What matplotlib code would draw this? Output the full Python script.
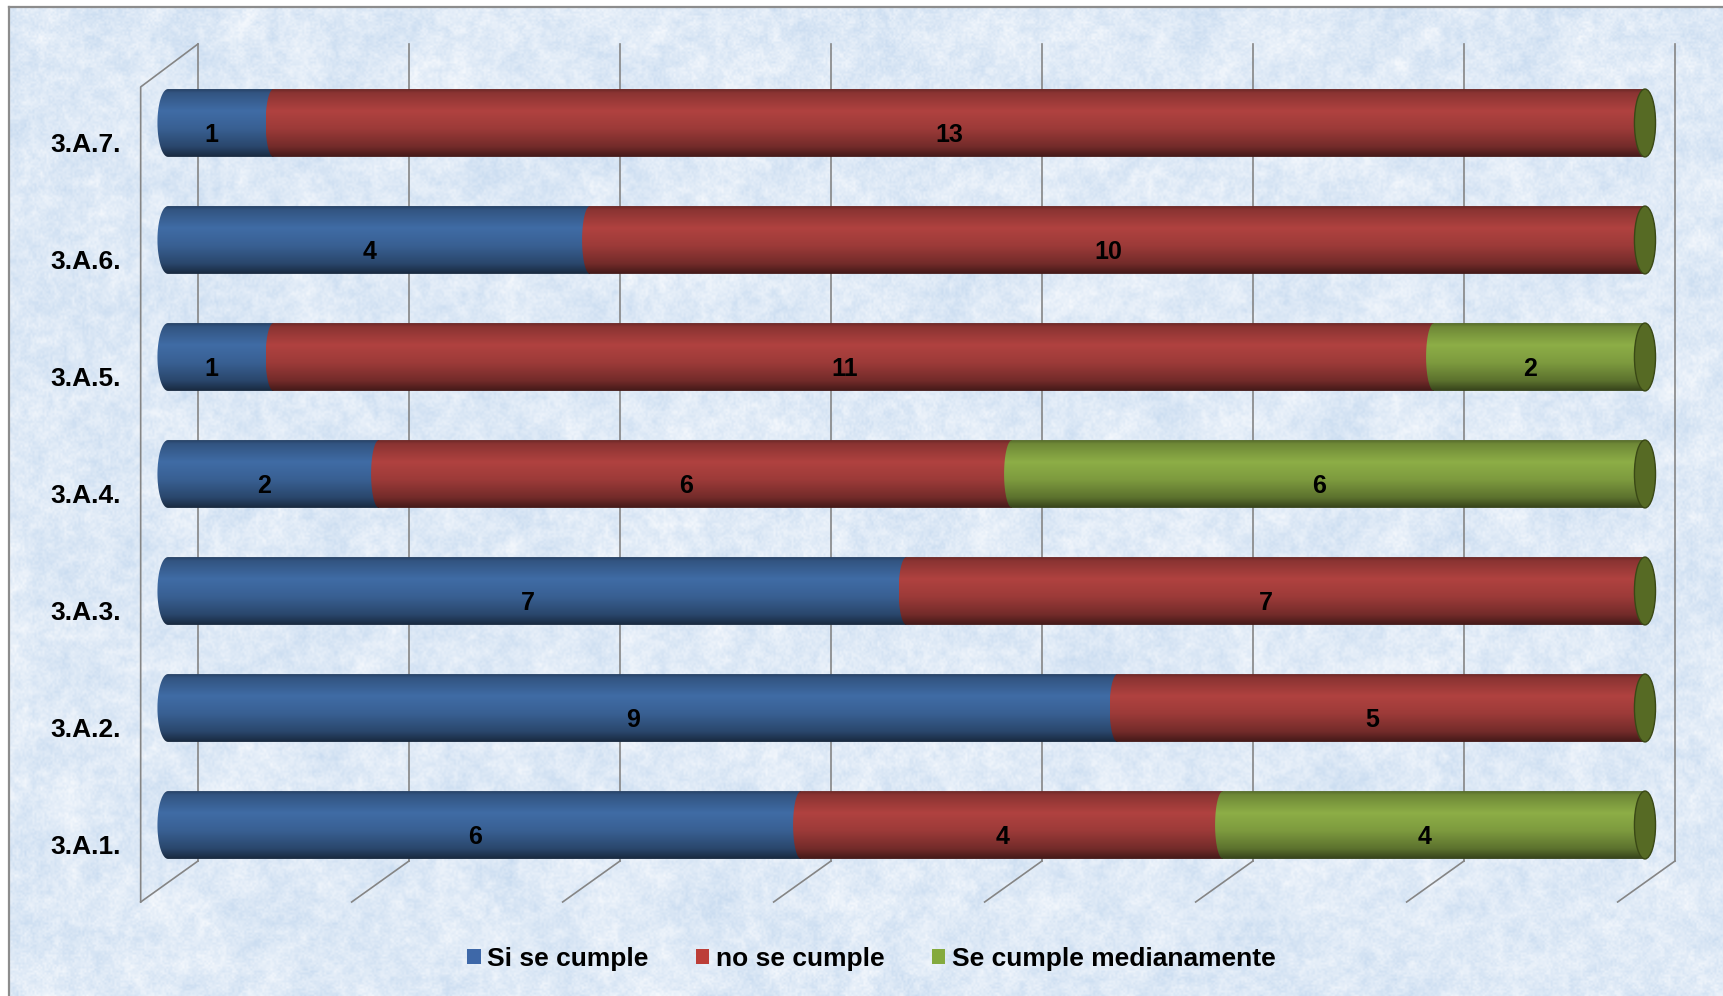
import numpy as np
import matplotlib
matplotlib.use("Agg")
import matplotlib.pyplot as plt
from matplotlib.patches import Ellipse, PathPatch, Patch
from matplotlib.path import Path

plt.rcParams["font.family"] = ["Liberation Sans", "DejaVu Sans"]

# ---- data -------------------------------------------------------------
categories = ["3.A.1.", "3.A.2.", "3.A.3.", "3.A.4.", "3.A.5.", "3.A.6.", "3.A.7."]
si_se_cumple = [6, 9, 7, 2, 1, 4, 1]
no_se_cumple = [4, 5, 7, 6, 11, 10, 13]
se_cumple_medianamente = [4, 0, 0, 6, 2, 0, 0]
series_names = ["Si se cumple", "no se cumple", "Se cumple medianamente"]
x_ticks = [0, 2, 4, 6, 8, 10, 12, 14]

# ---- styling ----------------------------------------------------------
body_rgb = [(58, 98, 150), (160, 60, 58), (128, 158, 64)]
legend_rgb = [(62, 104, 168), (188, 62, 56), (132, 170, 62)]
cap_rgb = (86, 106, 36)
grid_col = "#858585"

W, H, DPI = 1724, 996, 100
fig = plt.figure(figsize=(W / DPI, H / DPI), dpi=DPI)
fig.patch.set_facecolor("white")

# textured paper background inside the chart frame
bg = fig.add_axes([9 / W, 0, 1 - 9 / W, 1 - 7 / H])
rng = np.random.default_rng(11)


def smooth_noise(h, w, step):
    small = rng.random((h // step + 3, w // step + 3))
    yi = np.linspace(0, small.shape[0] - 2.001, h)
    xi = np.linspace(0, small.shape[1] - 2.001, w)
    y0 = yi.astype(int)
    x0 = xi.astype(int)
    fy = (yi - y0)[:, None]
    fx = (xi - x0)[None, :]
    a = small[y0][:, x0]
    b = small[y0][:, x0 + 1]
    c = small[y0 + 1][:, x0]
    d = small[y0 + 1][:, x0 + 1]
    return a * (1 - fx) * (1 - fy) + b * fx * (1 - fy) + c * (1 - fx) * fy + d * fx * fy


th, tw = H - 7, W - 9
n = (0.35 * smooth_noise(th, tw, 30) + 0.35 * smooth_noise(th, tw, 8)
     + 0.3 * smooth_noise(th, tw, 2))
n = (n - n.min()) / (n.max() - n.min())
dark = np.array([200, 219, 240]) / 255
light = np.array([246, 249, 253]) / 255
tex = dark[None, None, :] * (1 - n[..., None]) + light[None, None, :] * n[..., None]
bg.imshow(tex, aspect="auto", interpolation="bilinear")
bg.set_xticks([])
bg.set_yticks([])
for side in ["right", "bottom"]:
    bg.spines[side].set_visible(False)
for side in ["left", "top"]:
    bg.spines[side].set_color("#8c8c8c")
    bg.spines[side].set_linewidth(1.6)

# main plotting axes
ax = fig.add_axes([0, 0, 1, 1])
ax.patch.set_alpha(0)
ax.axis("off")

bar_half = 0.29      # half height of a cylinder (category units)
end_w = 0.1          # half width of the cylinder end ellipse (value units)
seam_w = 0.075       # bulge of the seam between two segments
label_dx, label_dy = -0.09, -0.1
dx_front, dx_back = -0.259, 0.284
y_floor_front, y_floor_back = -0.658, -0.308
y_top_front, y_top_back = 6.308, 6.675


def cylinder_shade(rgb, n=96):
    t = np.linspace(0, 1, n)
    k = np.interp(t, [0, 0.05, 0.32, 0.58, 0.85, 1.0], [0.68, 0.86, 1.1, 0.98, 0.72, 0.42])
    col = np.clip(np.array(rgb)[None, :] / 255 * k[:, None], 0, 1)
    return col[:, None, :]


def segment_path(a, b, yc, bulge):
    th_ = np.linspace(0, np.pi, 40)
    left = np.column_stack([a - bulge * np.sin(th_), yc + bar_half * np.cos(th_)])
    verts = [(b, yc + bar_half)] + [tuple(p) for p in left] + [(b, yc - bar_half), (b, yc + bar_half)]
    codes = [Path.MOVETO] + [Path.LINETO] * (len(verts) - 2) + [Path.CLOSEPOLY]
    return Path(verts, codes)


# back wall, side wall and floor grid
for v in x_ticks:
    ax.plot([v + dx_back, v + dx_back], [y_floor_back, y_top_back], color=grid_col, lw=1.2, zorder=1)
    ax.plot([v + dx_front, v + dx_back], [y_floor_front, y_floor_back], color=grid_col, lw=1.2, zorder=1)
ax.plot([dx_front, dx_front, dx_back], [y_floor_front, y_top_front, y_top_back],
        color=grid_col, lw=1.2, zorder=1)

# stacked cylinders
series = [si_se_cumple, no_se_cumple, se_cumple_medianamente]
for i, cat in enumerate(categories):
    left = 0
    first = True
    for s, vals in enumerate(series):
        v = vals[i]
        if v <= 0:
            continue
        a, b = left, left + v
        bulge = end_w if first else seam_w
        path = segment_path(a, b, i, bulge)
        clip = PathPatch(path, facecolor="none", edgecolor="none", transform=ax.transData)
        ax.add_patch(clip)
        im = ax.imshow(cylinder_shade(body_rgb[s]), extent=[a - bulge, b, i - bar_half, i + bar_half],
                       origin="upper", aspect="auto", interpolation="bilinear", zorder=3 + s * 0.1)
        im.set_clip_path(clip)
        ax.text((a + b) / 2 + label_dx, i + label_dy, str(v), ha="center", va="center",
                fontsize=18, fontweight="bold", color="black", zorder=6)
        left = b
        first = False
    ax.add_patch(Ellipse((left, i), 2 * end_w, 2 * bar_half, facecolor=np.array(cap_rgb) / 255,
                         edgecolor=np.array((58, 72, 22)) / 255, lw=1.0, zorder=4))
    ax.text(-0.45, i - 0.19, cat, ha="right", va="center", fontsize=19,
            fontweight="bold", color="black", zorder=6)

ax.set_xlim(-1.5924, 14.749)
ax.set_ylim(-1.4615, 7.051)

handles = [Patch(facecolor=np.array(c) / 255, edgecolor="none") for c in legend_rgb]
fig.legend(handles, series_names, loc="center", bbox_to_anchor=(0.5055, 0.0371), ncol=3,
           frameon=False, prop=dict(weight="bold", size=19), handlelength=0.5,
           handleheight=0.5, handletextpad=0.25, columnspacing=1.8)

fig.savefig("out.png", dpi=DPI)
